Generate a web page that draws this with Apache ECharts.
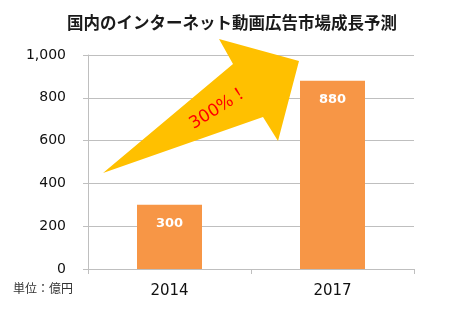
<!DOCTYPE html>
<html>
<head>
<meta charset="utf-8">
<script src="https://cdn.jsdelivr.net/npm/echarts@6/dist/echarts.min.js"></script>
<style>html,body{margin:0;padding:0;background:#fff}#c{width:450px;height:311px}</style>
</head>
<body>
<div id="c"></div>
<script>
var categories = ['2014', '2017'];
var values = [300, 880];
var yTicks = [0, 200, 400, 600, 800, 1000];
var titleText = '国内のインターネット動画広告市場成長予測';
var unitText = '単位：億円';
var arrowText = '300%！';

var chart = echarts.init(document.getElementById('c'));
chart.setOption({
  animation: false,
  title: {
    text: titleText,
    left: 62,
    top: 9,
    textStyle: { fontFamily: 'Noto Sans CJK JP', fontSize: 16.5, fontWeight: 'bold', color: '#1a1a1a' }
  },
  grid: { left: 88, right: 36, top: 55, bottom: 42 },
  xAxis: {
    type: 'category',
    data: categories,
    axisLine: { lineStyle: { color: '#BFBFBF', width: 1 } },
    axisTick: { show: true, length: 5, lineStyle: { color: '#BFBFBF' } },
    axisLabel: { fontFamily: 'DejaVu Sans', fontSize: 15, color: '#111', margin: 15 }
  },
  yAxis: {
    type: 'value',
    min: yTicks[0],
    max: yTicks[yTicks.length - 1],
    interval: 200,
    axisLine: { show: true, lineStyle: { color: '#BFBFBF', width: 1 } },
    axisTick: { show: true, length: 5, lineStyle: { color: '#BFBFBF' } },
    splitLine: { lineStyle: { color: '#BFBFBF', width: 1 } },
    axisLabel: {
      fontFamily: 'DejaVu Sans', fontSize: 14, color: '#111', margin: 22,
      formatter: function (v) { return v.toLocaleString('en-US'); }
    }
  },
  series: [{
    type: 'bar',
    data: values,
    barWidth: 65,
    itemStyle: { color: '#F79646' },
    label: {
      show: true, position: 'insideTop', distance: 12,
      fontFamily: 'DejaVu Sans', fontSize: 13, fontWeight: 'bold', color: '#fff'
    },
    z: 2
  }],
  graphic: [
    {
      type: 'polygon',
      shape: { points: [[103, 173], [233, 64], [219, 39], [299, 61], [278, 141], [263, 117]] },
      style: { fill: '#FFC000' },
      z: 10
    },
    {
      type: 'text',
      x: 219, y: 108,
      rotation: 0.56,
      style: {
        text: arrowText, fill: '#FF0000',
        font: '17px "DejaVu Sans", "Noto Sans CJK JP"',
        align: 'center', verticalAlign: 'middle'
      },
      z: 11
    },
    {
      type: 'text',
      left: 13, top: 282,
      style: { text: unitText, fill: '#333', font: '12px "Noto Sans CJK JP"' }
    }
  ]
});
</script>
</body>
</html>
